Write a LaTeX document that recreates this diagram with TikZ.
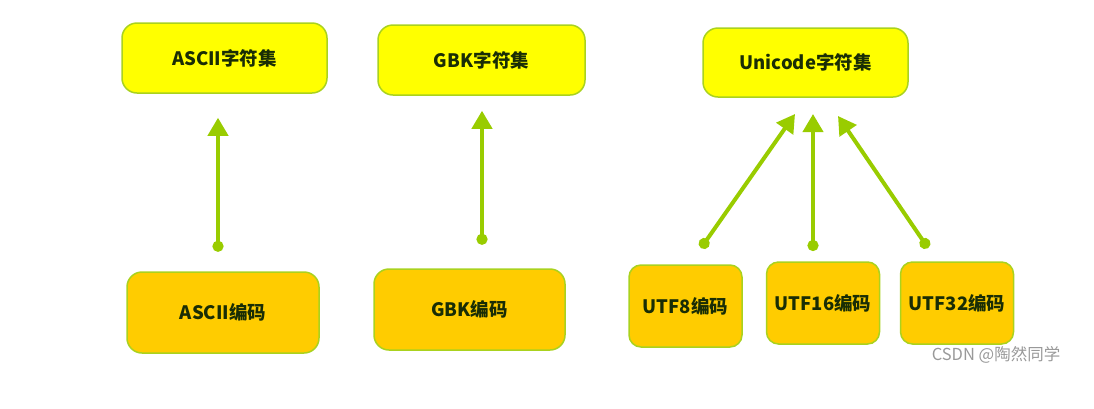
\documentclass[tikz,border=0pt]{standalone}
\usepackage{fontspec}
\newfontfamily\cjk{Noto Sans CJK SC}
\usetikzlibrary{arrows.meta,positioning}
\definecolor{setyellow}{RGB}{255,255,0}
\definecolor{encgold}{RGB}{255,204,0}
\definecolor{linegreen}{RGB}{153,204,0}
\definecolor{edgegreen}{RGB}{170,210,30}
\definecolor{txtgreen}{RGB}{25,45,5}

\begin{document}
\begin{tikzpicture}[x=1pt,y=-1pt,
  setbox/.style={draw=edgegreen,line width=1.5pt,fill=setyellow,rounded corners=15pt,
    minimum width=205pt,minimum height=70pt,inner sep=0pt,
    font=\cjk\bfseries\fontsize{18.5}{22}\selectfont,text=txtgreen},
  encbox/.style={setbox,fill=encgold,minimum width=192pt,minimum height=81pt},
  utfbox/.style={encbox,minimum width=113pt,minimum height=82pt,rounded corners=12pt},
  link/.style={linegreen,line width=4pt,
    {Circle[length=11pt]}-{Triangle[width=20pt,length=18pt]}}]
  \useasboundingbox (0,0) rectangle (1094,408);
  % character sets
  \node[setbox] (asciiset) at (224.5,58) {ASCII字符集};
  \node[setbox,minimum width=207pt] (gbkset) at (481.5,60) {GBK字符集};
  \node[setbox,minimum width=205pt,minimum height=69pt] (uniset) at (805.5,62.5) {Unicode字符集};
  % encodings
  \node[encbox] (asciienc) at (223,312.5) {ASCII编码};
  \node[encbox,minimum width=191pt] (gbkenc) at (469.5,309.5) {GBK编码};
  \node[utfbox] (utf8) at (685.5,306) {UTF8编码};
  \node[utfbox] (utf16) at (823,303) {UTF16编码};
  \node[utfbox] (utf32) at (957,303) {UTF32编码};
  % arrows
  \draw[link,shorten <=19.5pt,shorten >=24pt] (asciienc.north -| 218,0) -- (asciiset.south -| 218,0);
  \draw[link,shorten <=23.5pt,shorten >=15pt] (gbkenc.north -| 482,0) -- (gbkset.south -| 482,0);
  \coordinate (u8dot) at (701,248);
  \coordinate (u16dot) at (813,251);
  \coordinate (u32dot) at (928,248);
  \coordinate (u8tip) at (795,114);
  \coordinate (u16tip) at (813,114);
  \coordinate (u32tip) at (838,116);
  \draw[link] (u8dot) -- (u8tip);
  \draw[link] (u16dot) -- (u16tip);
  \draw[link] (u32dot) -- (u32tip);
  % watermark
  \node[font=\cjk\fontsize{16.5}{18}\selectfont,text=black!40] (mark) at (996,355) {CSDN @陶然同学};
\end{tikzpicture}
\end{document}
